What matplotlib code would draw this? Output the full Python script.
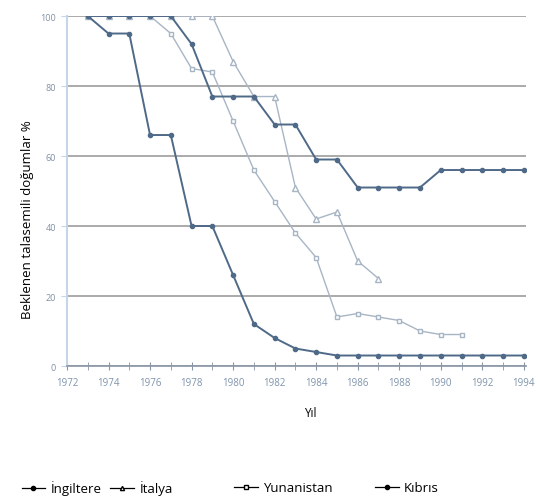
import matplotlib
matplotlib.use('Agg')
import matplotlib.pyplot as plt
from matplotlib.lines import Line2D
from matplotlib.ticker import MultipleLocator

plt.rcParams['font.family'] = ['Open Sans', 'DejaVu Sans']

# data (percent of expected thalassaemia births)
years_kibris = list(range(1973, 1995))
kibris = [100, 95, 95, 66, 66, 40, 40, 26, 12, 8, 5, 4, 3, 3, 3, 3, 3, 3, 3, 3, 3, 3]

years_ingiltere = list(range(1973, 1995))
ingiltere = [100, 100, 100, 100, 100, 92, 77, 77, 77, 69, 69, 59, 59, 51, 51, 51, 51,
             56, 56, 56, 56, 56]

years_italya = list(range(1973, 1988))
italya = [100, 100, 100, 100, 100, 100, 100, 87, 77, 77, 51, 42, 44, 30, 25]

years_yunanistan = list(range(1973, 1992))
yunanistan = [100, 100, 100, 100, 95, 85, 84, 70, 56, 47, 38, 31, 14, 15, 14, 13, 10,
              9, 9]

x_ticks = list(range(1972, 1995, 2))
y_ticks = [0, 20, 40, 60, 80, 100]

dark = '#4f6a88'
light = '#a8b5c4'

fig = plt.figure(figsize=(5.38, 5.02), dpi=100)
ax = fig.add_axes([0.1245, 0.2689, 0.8530, 0.6972])

ax.plot(years_italya, italya, color=light, lw=1.0, marker='^', ms=4,
        mfc='white', mec=light, zorder=3)
ax.plot(years_yunanistan, yunanistan, color=light, lw=1.0, marker='s', ms=3.5,
        mfc='white', mec=light, zorder=3)
ax.plot(years_ingiltere, ingiltere, color=dark, lw=1.4, marker='o', ms=3,
        mfc=dark, mec=dark, zorder=4)
ax.plot(years_kibris, kibris, color=dark, lw=1.4, marker='o', ms=3,
        mfc=dark, mec=dark, zorder=4)

ax.set_xlim(1972, 1994.1)
ax.set_ylim(0, 100)
ax.set_xticks(x_ticks)
ax.xaxis.set_minor_locator(MultipleLocator(1))
ax.set_yticks(y_ticks)
ax.grid(axis='y', color='#9c9c9c', lw=1.2, zorder=1)
for lbl in ('top', 'right'):
    ax.spines[lbl].set_visible(False)
ax.spines['left'].set_color('#c5d6e8')
ax.spines['left'].set_linewidth(1.5)
ax.spines['bottom'].set_color('#8a96a6')
ax.spines['bottom'].set_linewidth(1.2)
ax.tick_params(axis='x', which='both', direction='inout', length=6,
               color='#8a96a6', labelsize=7, labelcolor='#7f93ab', pad=5)
ax.tick_params(axis='y', length=4, color='#c5d6e8', labelsize=6.5,
               labelcolor='#8090a4', pad=4)

ax.set_ylabel('Beklenen talasemili doğumlar %', fontsize=9.5)
ax.yaxis.set_label_coords(-0.072, 0.42)
ax.set_xlabel('Yıl', fontsize=8.5)
ax.xaxis.set_label_coords(0.53, -0.115)

# legend entries spread unevenly along the bottom, as in the reference
entries = [
    ('İngiltere', 'o', 'black', 0.040),
    ('İtalya', '^', 'white', 0.205),
    ('Yunanistan', 's', 'white', 0.435),
    ('Kıbrıs', 'o', 'black', 0.697),
]
for name, mk, face, xpos in entries:
    h = Line2D([], [], color='black', lw=0.9, marker=mk, ms=3, mfc=face,
               mec='black')
    fig.legend([h], [name], loc='center left', bbox_to_anchor=(xpos, 0.026),
               frameon=False, fontsize=9.5, handlelength=1.8, handletextpad=0.4,
               borderpad=0, borderaxespad=0)

fig.savefig('out.png', dpi=100)
